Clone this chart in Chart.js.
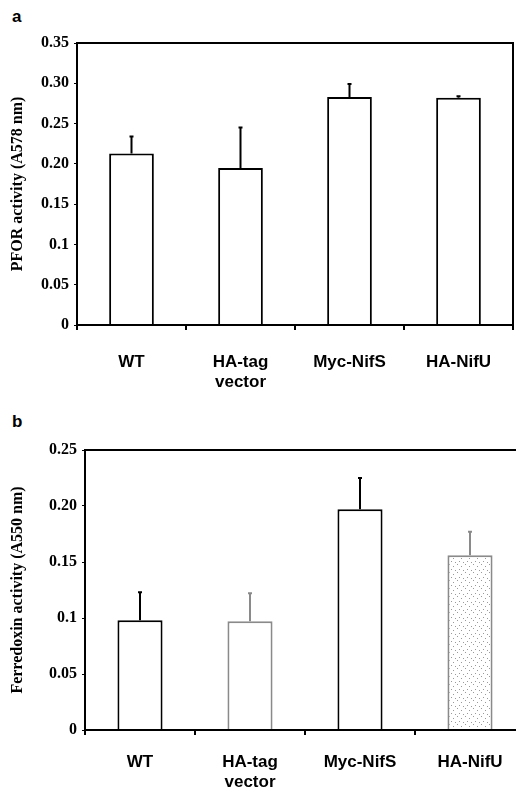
<!DOCTYPE html>
<html>
<head>
<meta charset="utf-8">
<script src="https://cdn.jsdelivr.net/npm/chart.js@4"></script>
<style>
  html, body { margin: 0; padding: 0; background: #fff; overflow: hidden; }
  body { width: 516px; height: 788px; position: relative; }
  .panel { position: absolute; left: 0; }
  .letter { position: absolute; font: bold 17px "Liberation Sans", Arial, sans-serif; color: #000; }
</style>
</head>
<body>
<div class="letter" style="left:12px; top:7px;">a</div>
<div class="panel" style="top:0; width:516px; height:395px;"><canvas id="chartA"></canvas></div>
<div class="letter" style="left:12px; top:412px;">b</div>
<div class="panel" style="top:395px; width:530px; height:393px;"><canvas id="chartB"></canvas></div>
<script>
// données
const categories = [["WT"], ["HA-tag", "vector"], ["Myc-NifS"], ["HA-NifU"]];

const pforValues = [0.213, 0.195, 0.283, 0.282];
const pforErrors = [0.021, 0.050, 0.016, 0.002];
const pforTicks = ["0", "0.05", "0.1", "0.15", "0.20", "0.25", "0.30", "0.35"];

const ferredoxinValues = [0.098, 0.097, 0.197, 0.156];
const ferredoxinErrors = [0.025, 0.025, 0.028, 0.021];
const ferredoxinTicks = ["0", "0.05", "0.1", "0.15", "0.20", "0.25"];

// motif pointillé pour la barre HA-NifU du panneau b
function makeStipple() {
    const c = document.createElement("canvas");
    c.width = 8; c.height = 8;
    const g = c.getContext("2d");
    g.fillStyle = "#fff";
    g.fillRect(0, 0, 8, 8);
    g.fillStyle = "#9a9a9a";
    g.fillRect(1, 1, 1, 1);
    g.fillRect(5, 3, 1, 1);
    g.fillRect(3, 6, 1, 1);
    g.fillRect(7, 7, 1, 1);
    return g.createPattern(c, "repeat");
}

// barres d'erreur (vers le haut uniquement) + cadre du graphique
const errorBarsPlugin = {
    id: "errorBars",
    afterDatasetsDraw(chart) {
        const ctx = chart.ctx;
        const yScale = chart.scales.y;
        const ds = chart.data.datasets[0];
        const meta = chart.getDatasetMeta(0);
        ctx.save();
        meta.data.forEach((bar, i) => {
            const top = yScale.getPixelForValue(ds.data[i]);
            const errTop = yScale.getPixelForValue(ds.data[i] + ds.errors[i]);
            ctx.strokeStyle = ds.errorColors[i];
            ctx.lineWidth = 2;
            ctx.beginPath();
            ctx.moveTo(bar.x, top);
            ctx.lineTo(bar.x, errTop);
            ctx.moveTo(bar.x - 2, errTop);
            ctx.lineTo(bar.x + 2, errTop);
            ctx.stroke();
        });
        const a = chart.chartArea;
        ctx.strokeStyle = "#000";
        ctx.lineWidth = 2;
        ctx.strokeRect(a.left, a.top, a.right - a.left, a.bottom - a.top);
        ctx.restore();
    }
};

function buildChart(canvasId, values, errors, tickLabels, maxY, yTitle, opts) {
    const ctx = document.getElementById(canvasId).getContext("2d");
    return new Chart(ctx, {
        type: "bar",
        data: {
            labels: categories,
            datasets: [{
                data: values,
                errors: errors,
                errorColors: opts.errorColors,
                backgroundColor: opts.fills,
                borderColor: opts.borders,
                borderWidth: 2,
                categoryPercentage: 1,
                barPercentage: 0.41
            }]
        },
        options: {
            responsive: true,
            maintainAspectRatio: false,
            animation: false,
            layout: { padding: opts.padding },
            plugins: { legend: { display: false }, tooltip: { enabled: false } },
            scales: {
                x: {
                    grid: { drawOnChartArea: false, tickLength: 5, color: "#000", lineWidth: 2 },
                    border: { color: "#000", width: 2 },
                    ticks: {
                        color: "#000",
                        padding: opts.xPad,
                        maxRotation: 0,
                        font: { family: "'Liberation Sans', Arial, sans-serif", size: 17, weight: "bold", lineHeight: 1.2 }
                    },
                    afterFit: s => { s.height = opts.xHeight; }
                },
                y: {
                    min: 0,
                    max: maxY,
                    ticks: {
                        stepSize: 0.05,
                        color: "#000",
                        padding: 5,
                        font: { family: "'Liberation Serif', 'Times New Roman', serif", size: 16, weight: "bold" },
                        callback: (v, i) => tickLabels[i]
                    },
                    grid: { drawOnChartArea: false, tickLength: 3, color: "#000", lineWidth: 1 },
                    border: { color: "#000", width: 2 },
                    title: {
                        display: true,
                        text: yTitle,
                        color: "#000",
                        padding: { top: 8, bottom: 0 },
                        font: { family: "'Liberation Serif', 'Times New Roman', serif", size: 16, weight: "bold" }
                    },
                    afterFit: s => { s.width = opts.yWidth; }
                }
            }
        },
        plugins: [errorBarsPlugin]
    });
}

buildChart("chartA", pforValues, pforErrors, pforTicks, 0.35, "PFOR activity (A578 nm)", {
    fills: "#fff",
    borders: "#000",
    errorColors: ["#000", "#000", "#000", "#000"],
    padding: { top: 43, right: 3, bottom: 0, left: 0 },
    xHeight: 70,
    xPad: 22,
    yWidth: 77
});

buildChart("chartB", ferredoxinValues, ferredoxinErrors, ferredoxinTicks, 0.25, "Ferredoxin activity (A550 nm)", {
    fills: ["#fff", "#fff", "#fff", makeStipple()],
    borders: ["#000", "#8a8a8a", "#000", "#8a8a8a"],
    errorColors: ["#000", "#8a8a8a", "#000", "#8a8a8a"],
    padding: { top: 55, right: 5, bottom: 0, left: 0 },
    xHeight: 58,
    xPad: 17,
    yWidth: 85
});
</script>
</body>
</html>
